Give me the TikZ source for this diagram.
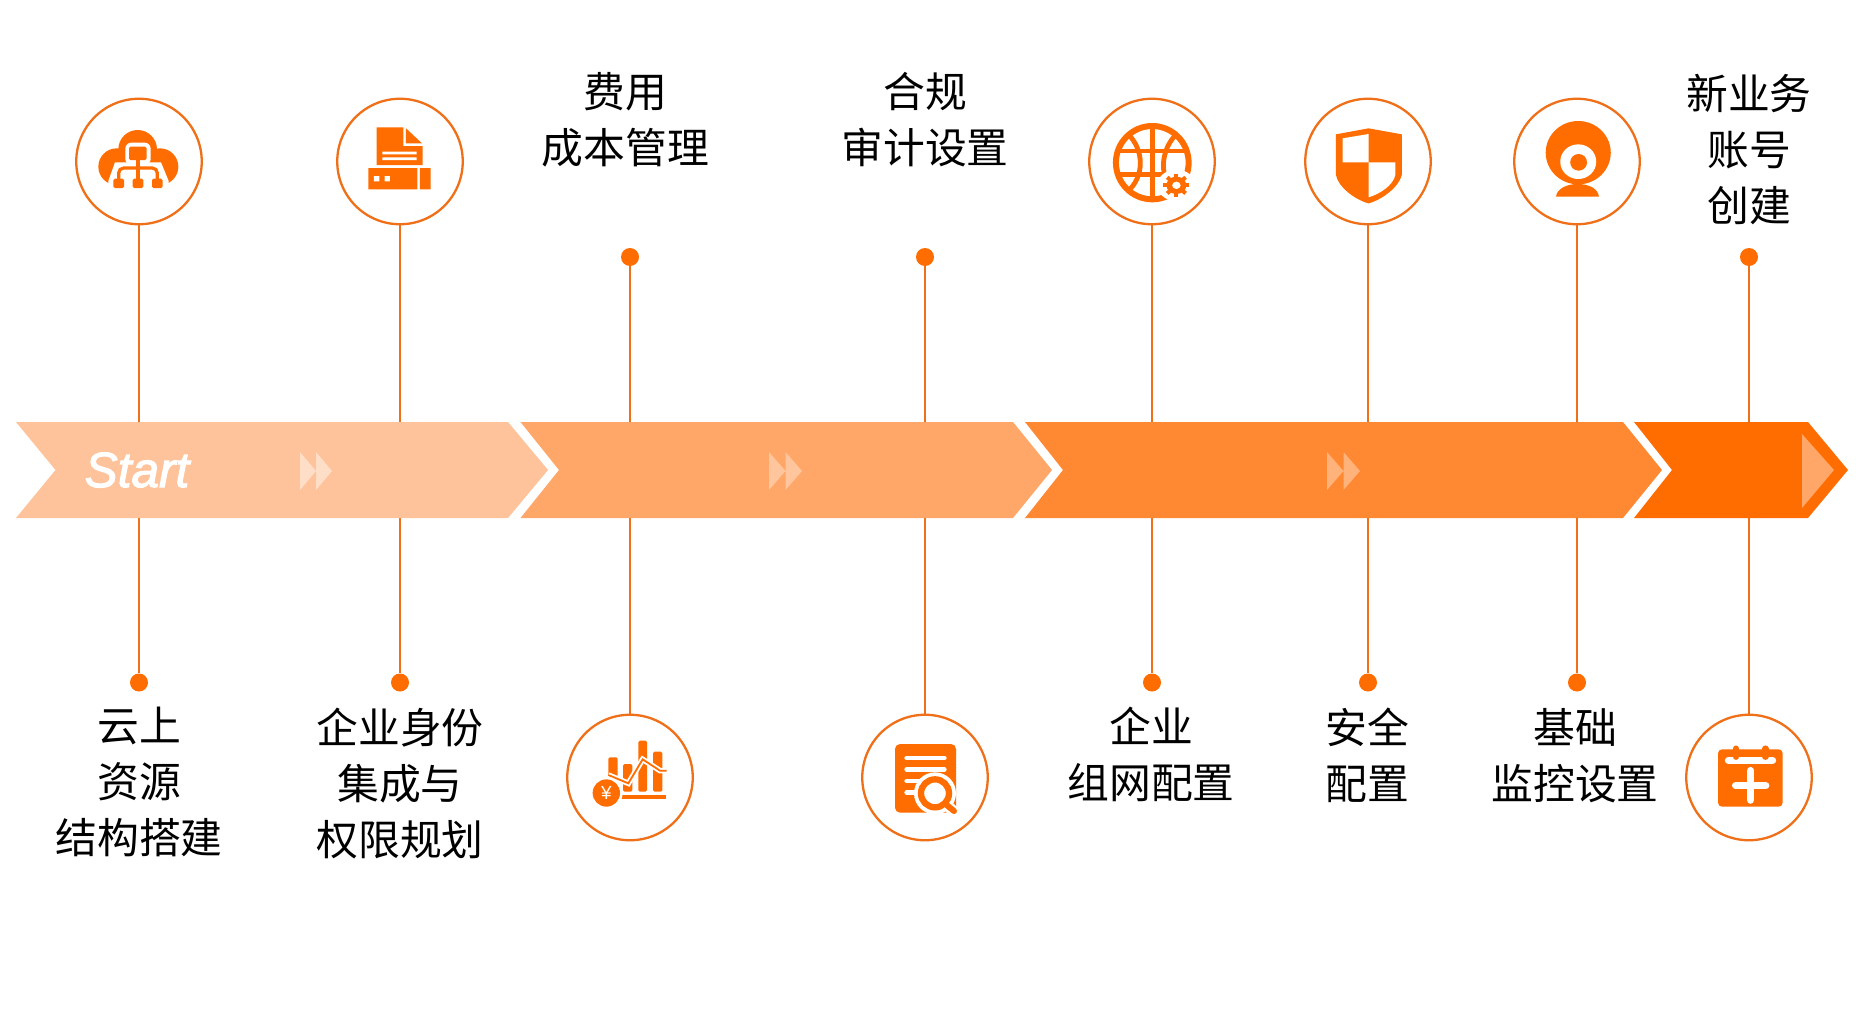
\documentclass[tikz,border=0pt]{standalone}
\usepackage{fontspec}
\setmainfont{Noto Sans CJK SC}
\newfontfamily\latinfont{Liberation Sans}
\definecolor{ora}{HTML}{FF6D00}
\definecolor{lin}{HTML}{EF7019}
\definecolor{bandA}{HTML}{FEC39A}
\definecolor{bandB}{HTML}{FFA768}
\definecolor{bandC}{HTML}{FF8833}
\definecolor{bandD}{HTML}{FF6D00}
\tikzset{
  ring/.style={circle,draw=lin,line width=2.3pt,fill=white,minimum size=125.5pt,inner sep=0pt},
  dotnode/.style={circle,fill=ora,minimum size=18pt,inner sep=0pt},
  conn/.style={draw=lin,line width=2.7pt},
  lab/.style={align=center,inner sep=0pt,text=black,font=\fontsize{41.8}{56}\selectfont},
}
\begin{document}
\begin{tikzpicture}[x=1pt,y=-1pt]
\useasboundingbox[fill=white] (0,0) rectangle (1864,1036);
% circles and dots
\node[ring] (c1) at (139,161.5) {};
\node[ring] (c2) at (400,161.5) {};
\node[ring] (c5) at (1152,161.5) {};
\node[ring] (c6) at (1368,161.5) {};
\node[ring] (c7) at (1577,161.5) {};
\node[ring] (c3) at (630,777.5) {};
\node[ring] (c4) at (925,777.5) {};
\node[ring] (c8) at (1749,777.5) {};
\node[dotnode] (d1) at (139,682.5) {};
\node[dotnode] (d2) at (400,682.5) {};
\node[dotnode] (d5) at (1152,682.5) {};
\node[dotnode] (d6) at (1368,682.5) {};
\node[dotnode] (d7) at (1577,682.5) {};
\node[dotnode] (d3) at (630,257) {};
\node[dotnode] (d4) at (925,257) {};
\node[dotnode] (d8) at (1749,257) {};
\foreach \n in {1,...,8} {\draw[conn] (c\n) -- (d\n);}
% band
\fill[bandA] (16,422)--(508,422)--(548,470)--(508,518)--(16,518)--(55.5,470)--cycle;
\fill[bandB] (520.5,422)--(1013,422)--(1052,470)--(1013,518)--(520.5,518)--(559,470)--cycle;
\fill[bandC] (1025,422)--(1623,422)--(1662,470)--(1623,518)--(1025,518)--(1063,470)--cycle;
\fill[bandD] (1634,422)--(1808,422)--(1848,470)--(1808,518)--(1634,518)--(1672,470)--cycle;
\fill[color=white!45!bandA] (300,452)--(316,471)--(300,490)--cycle (316,452)--(332,471)--(316,490)--cycle;
\fill[color=white!35!bandB] (769,452)--(785.5,471)--(769,490)--cycle (785.5,452)--(802,471)--(785.5,490)--cycle;
\fill[color=white!35!bandC] (1327,452)--(1343.5,471)--(1327,490)--cycle (1343.5,452)--(1360,471)--(1343.5,490)--cycle;
\fill[bandB] (1802,434)--(1834,470)--(1802,508)--cycle;
\node[text=white,inner sep=0pt,font=\latinfont\itshape\fontsize{49.5}{52}\selectfont] (st) at (137,470) {\special{pdf:code 2 Tr 1.1 w 1 1 1 RG}Start\special{pdf:code 0 Tr 1 w}};
% labels
\node[lab] (l1) at (139,782) {云上\\资源\\结构搭建};
\node[lab] (l2) at (400,784) {企业身份\\集成与\\权限规划};
\node[lab] (l3) at (625.5,119.5) {费用\\成本管理};
\node[lab] (l4) at (925,120) {合规\\审计设置};
\node[lab] (l5) at (1151,754.5) {企业\\组网配置};
\node[lab] (l6) at (1367,755.5) {安全\\配置};
\node[lab] (l7) at (1575,755.5) {基础\\监控设置};
\node[lab] (l8) at (1749,149.5) {新业务\\账号\\创建};
% icon 1 cloud
\begin{scope}[shift={(60,80)},scale=1/3]
\fill[ora] (233,208) circle (58);
\fill[ora] (170,260) circle (55);
\fill[ora] (300,260) circle (55);
\fill[ora] (150,240) rectangle (320,290);
\fill[white] (165,247) -- (303,247) -- (326,303) -- (326,330) -- (145,330) -- (145,303) -- cycle;
\fill[white,rounded corners=6pt] (196,188) rectangle (272,255);
\draw[ora,line width=3.2pt,rounded corners=5pt] (176,298) -- (176,264) -- (292,264) -- (292,298);
\draw[ora,line width=3.2pt] (234,235) -- (234,298);
\fill[ora,rounded corners=1.5pt] (207,200) rectangle (260,240);
\fill[ora,rounded corners=1.5pt] (160,296) rectangle (192,324);
\fill[ora,rounded corners=1.5pt] (218,296) rectangle (250,324);
\fill[ora,rounded corners=1.5pt] (276,296) rectangle (308,324);
\end{scope}
% icon 2 document
\begin{scope}[shift={(60,80)},scale=1/3]
\fill[ora] (950,142)--(1030,142)--(1030,198)--(1088,198)--(1088,255)--(950,255)--cycle;
\fill[ora] (1038,145)--(1086,190)--(1038,190)--cycle;
\fill[white] (967,215) rectangle (1070,223) (967,232) rectangle (1070,240);
\fill[ora] (925,264) rectangle (1072,328) (1080,264) rectangle (1112,328);
\fill[white] (942,288) rectangle (958,304) (974,288) rectangle (990,304);
\end{scope}
% icons in the stretched crop
\begin{scope}[shift={(1070,80)},xscale=0.3827,yscale=1/3]
% globe
\draw[ora,line width=6pt] (215,248) ellipse (95 and 110);
\draw[ora,line width=4.8pt] (215,135) -- (215,362);
\draw[ora,line width=4.8pt] (125,213) -- (305,213) (125,283) -- (305,283);
\draw[ora,line width=4.8pt] (150,160) .. controls (195,210) and (195,290) .. (150,335);
\draw[ora,line width=4.8pt] (280,160) .. controls (235,210) and (235,290) .. (265,320);
\fill[white] (278,316) ellipse (50 and 47);
\fill[ora] (278,316) ellipse (26 and 26);
\foreach \a in {0,45,...,315} {\draw[ora,line width=4pt] (278,316) -- ++({\a}:34);}
\fill[white] (278,316) ellipse (11 and 11);
% shield
\fill[ora] (780,145)--(867,163)--(867,285) .. controls (860,320) and (815,360) .. (780,370) .. controls (745,360) and (700,320) .. (695,285) -- (695,163) -- cycle;
\fill[white] (712,175)--(780,162)--(780,247)--(712,247)--cycle;
\fill[white] (780,247)--(850,247)--(850,285) .. controls (845,315) and (810,342) .. (780,352) -- cycle;
% webcam
\fill[ora] (1270,350) .. controls (1272,325) and (1300,312) .. (1326,312) .. controls (1355,312) and (1380,325) .. (1382,350) -- cycle;
\fill[ora] (1328,218) ellipse (85 and 95);
\fill[white] (1328,245) ellipse (47 and 52);
\fill[ora] (1329,247) ellipse (22 and 25);
\end{scope}
% icon chart
\begin{scope}[shift={(550,700)},scale=1/3]
\fill[ora,rounded corners=1.5pt] (175,172) rectangle (203,240);
\fill[ora,rounded corners=1.5pt] (219,192) rectangle (247,275);
\fill[ora,rounded corners=1.5pt] (265,122) rectangle (291,275);
\fill[ora,rounded corners=1.5pt] (309,155) rectangle (337,275);
\fill[ora] (212,285) rectangle (348,298);
\draw[white,line width=5.5pt] (175,225)--(235,250)--(278,178)--(330,212)--(350,212);
\draw[ora,line width=1.8pt] (175,225)--(235,250)--(278,178)--(330,212)--(350,212);
\fill[white] (169,279) circle (49);
\fill[ora] (169,279) circle (41);
\node[text=white,inner sep=0pt,font=\latinfont\fontsize{19}{20}\selectfont] (yen) at (169,280) {¥};
\end{scope}
% icon doc search
\begin{scope}[shift={(550,700)},scale=1/3]
\fill[ora,rounded corners=5pt] (1035,132) rectangle (1218,338);
\draw[white,line width=4.6pt,line cap=round] (1070,174)--(1183,174) (1070,208)--(1183,208) (1070,243)--(1110,243) (1070,278)--(1100,278);
\fill[white] (1155,280) circle (63);
\draw[white,line width=11pt,line cap=round] (1190,315)--(1212,335);
\draw[ora,line width=6.3pt] (1155,280) circle (42);
\draw[ora,line width=6pt,line cap=round] (1190,315)--(1212,333);
\end{scope}
% icon calendar
\begin{scope}[shift={(1660,700)},scale=1/3]
\fill[ora,rounded corners=4pt] (174,148) rectangle (368,320);
\draw[white,line width=7pt,line cap=round] (205,181)--(338,181);
\draw[ora,line width=6.5pt,line cap=round] (228,146)--(228,170) (316,146)--(316,170);
\draw[white,line width=7.5pt,line cap=round] (272,212)--(272,300) (227,257)--(317,257);
\end{scope}
\end{tikzpicture}
\end{document}
